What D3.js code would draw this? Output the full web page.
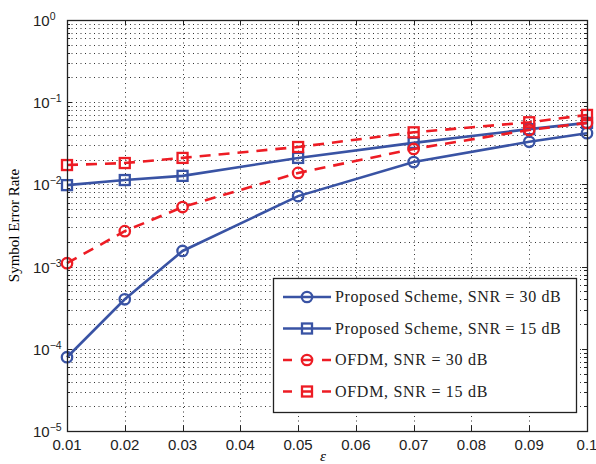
<!DOCTYPE html>
<html>
<head>
<meta charset="utf-8">
<script src="https://cdn.jsdelivr.net/npm/d3@7"></script>
<style>
  body { margin: 0; background: #fff; }
</style>
</head>
<body>
<div id="chart"></div>
<script>
// data
var eps = [0.01, 0.02, 0.03, 0.05, 0.07, 0.09, 0.1];
var prop30 = [7.9e-5, 4.0e-4, 1.55e-3, 7.2e-3, 1.87e-2, 3.3e-2, 4.2e-2];
var prop15 = [9.8e-3, 1.13e-2, 1.27e-2, 2.1e-2, 3.2e-2, 4.7e-2, 5.6e-2];
var ofdm30 = [1.1e-3, 2.7e-3, 5.3e-3, 1.38e-2, 2.7e-2, 4.6e-2, 5.6e-2];
var ofdm15 = [1.72e-2, 1.82e-2, 2.1e-2, 2.85e-2, 4.3e-2, 5.7e-2, 7.0e-2];
var xTicks = [0.01, 0.02, 0.03, 0.04, 0.05, 0.06, 0.07, 0.08, 0.09, 0.1];
var yExps = [0, -1, -2, -3, -4, -5];
var seriesNames = ["Proposed Scheme, SNR = 30 dB", "Proposed Scheme, SNR = 15 dB",
                   "OFDM, SNR = 30 dB", "OFDM, SNR = 15 dB"];

var blue = "#3953a4", red = "#ed1c24";
var series = [
    {name: seriesNames[0], vals: prop30, color: blue, dash: null, mark: "circle"},
    {name: seriesNames[1], vals: prop15, color: blue, dash: null, mark: "square"},
    {name: seriesNames[2], vals: ofdm30, color: red, dash: "11,8", mark: "circle"},
    {name: seriesNames[3], vals: ofdm15, color: red, dash: "11,8", mark: "square"}
];

var W = 596, H = 464;
var pL = 67, pR = 587, pT = 20, pB = 431;

var svg = d3.select("#chart").append("svg")
    .attr("width", W)
    .attr("height", H);

var x = d3.scaleLinear().domain([0.01, 0.1]).range([pL, pR]);
var y = d3.scaleLog().domain([1e-5, 1]).range([pB, pT]);

// grid (dotted)
var grid = svg.append("g").attr("stroke", "#333").attr("stroke-width", 1)
    .attr("stroke-dasharray", "1,3.5");
xTicks.slice(1, -1).forEach(function(t) {
    grid.append("line").attr("x1", Math.round(x(t)) + 0.5).attr("x2", Math.round(x(t)) + 0.5)
        .attr("y1", pT).attr("y2", pB);
});
var minors = [];
for (var e = -5; e < 0; e++) {
    for (var m = 1; m < 10; m++) minors.push(m * Math.pow(10, e));
}
minors.push(1);
minors.forEach(function(v) {
    if (v <= 1e-5 || v >= 1) return;
    grid.append("line").attr("x1", pL).attr("x2", pR)
        .attr("y1", Math.round(y(v)) + 0.5).attr("y2", Math.round(y(v)) + 0.5);
});

// ticks inside
var ticks = svg.append("g").attr("stroke", "#222").attr("stroke-width", 1);
xTicks.forEach(function(t) {
    var xx = Math.round(x(t)) + 0.5;
    ticks.append("line").attr("x1", xx).attr("x2", xx).attr("y1", pB).attr("y2", pB - 5);
    ticks.append("line").attr("x1", xx).attr("x2", xx).attr("y1", pT).attr("y2", pT + 5);
});
minors.forEach(function(v) {
    var yy = Math.round(y(v)) + 0.5;
    var len = (Math.abs(Math.log10(v) - Math.round(Math.log10(v))) < 1e-9) ? 5 : 3;
    ticks.append("line").attr("x1", pL).attr("x2", pL + len).attr("y1", yy).attr("y2", yy);
    ticks.append("line").attr("x1", pR).attr("x2", pR - len).attr("y1", yy).attr("y2", yy);
});

// tick labels
xTicks.forEach(function(t) {
    svg.append("text")
        .attr("font-family", "Liberation Sans, Arial, sans-serif")
        .attr("font-size", 15)
        .attr("text-anchor", "middle")
        .attr("fill", "#222")
        .attr("x", x(t))
        .attr("y", pB + 19)
        .text(t === 0.1 ? "0.1" : d3.format(".2f")(t));
});
yExps.forEach(function(p) {
    var t = svg.append("text")
        .attr("font-family", "Liberation Sans, Arial, sans-serif")
        .attr("font-size", 15)
        .attr("fill", "#222")
        .attr("x", 33)
        .attr("y", y(Math.pow(10, p)) + 6);
    t.append("tspan").text("10");
    t.append("tspan").attr("font-size", 10.5).attr("dy", -6).text(p === 0 ? "0" : "\u2212" + (-p));
});

// axis labels
svg.append("text")
    .attr("font-family", "Liberation Serif, Times New Roman, serif")
    .attr("font-size", 15)
    .attr("text-anchor", "middle")
    .attr("transform", "translate(19," + ((pT + pB) / 2) + ") rotate(-90)")
    .text("Symbol Error Rate");
svg.append("text")
    .attr("font-family", "Liberation Serif, Times New Roman, serif")
    .attr("font-style", "italic")
    .attr("font-size", 15)
    .attr("text-anchor", "middle")
    .attr("x", 323)
    .attr("y", 461)
    .text("\u03b5");

// lines and markers
var line = d3.line().x(function(d, i) { return x(eps[i]); }).y(function(d) { return y(d); });

function drawMarker(g, kind, cx, cy, color) {
    if (kind === "circle") {
        g.append("circle").attr("cx", cx).attr("cy", cy).attr("r", 5.2)
            .attr("fill", "none").attr("stroke", color).attr("stroke-width", 2.3);
    } else {
        g.append("rect").attr("x", cx - 5).attr("y", cy - 5).attr("width", 10).attr("height", 10)
            .attr("fill", "none").attr("stroke", color).attr("stroke-width", 2.3);
    }
}

series.forEach(function(s) {
    svg.append("path")
        .attr("d", line(s.vals))
        .attr("fill", "none")
        .attr("stroke", s.color)
        .attr("stroke-width", 2.6)
        .attr("stroke-dasharray", s.dash);
    var g = svg.append("g");
    s.vals.forEach(function(v, i) {
        drawMarker(g, s.mark, x(eps[i]), y(v), s.color);
    });
});

// axes box
svg.append("rect")
    .attr("x", pL + 0.5).attr("y", pT + 0.5)
    .attr("width", pR - pL).attr("height", pB - pT)
    .attr("fill", "none").attr("stroke", "#222").attr("stroke-width", 1.3);

// legend
var lx = 273, ly = 278, lw = 303, lh = 134;
var legend = svg.append("g");
legend.append("rect")
    .attr("x", lx + 0.5).attr("y", ly + 0.5)
    .attr("width", lw).attr("height", lh)
    .attr("fill", "#fff").attr("stroke", "#222").attr("stroke-width", 1.3);
series.forEach(function(s, i) {
    var yy = ly + 19 + i * 31.5;
    legend.append("line")
        .attr("x1", lx + 10).attr("x2", lx + 58)
        .attr("y1", yy).attr("y2", yy)
        .attr("stroke", s.color).attr("stroke-width", 2.6)
        .attr("stroke-dasharray", s.dash ? "9,10.5" : null);
    drawMarker(legend, s.mark, lx + 34, yy, s.color);
    var txt = legend.append("text")
        .attr("font-family", "Liberation Serif, Times New Roman, serif")
        .attr("font-size", 16)
        .attr("fill", "#222")
        .attr("x", lx + 62)
        .attr("y", yy + 5)
        .text(s.name);
    // widen a little, the original uses a wider TeX font
    var len = txt.node().getComputedTextLength();
    txt.attr("textLength", len * 1.08).attr("lengthAdjust", "spacing");
});
</script>
</body>
</html>
